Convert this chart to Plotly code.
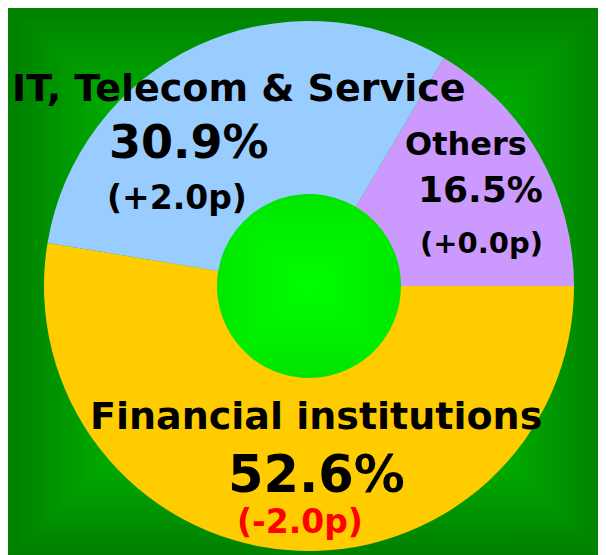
import base64
import plotly.graph_objects as go

# ---- data ----
categories = ["Financial institutions", "IT, Telecom & Service", "Others"]
shares = [52.6, 30.9, 16.5]
changes = [-2.0, 2.0, 0.0]
slice_colors = ["#FFCC00", "#99CCFF", "#CC99FF"]

# figure is placed by the page at (8, 8)
W, H = 598, 547
OFF = 8  # page margin; style positions below are given in window pixels

# ---- background: rectangular "from centre" gradient (SVG data URI) ----
x0, y0, x1, y1 = 0, 0, W, H
cx, cy = 301, 278
stops = '<stop offset="0" stop-color="#008000"/><stop offset="0.32" stop-color="#00A800"/>' \
        '<stop offset="0.69" stop-color="#00E600"/><stop offset="1" stop-color="#00FF00"/>'
svg = f'''<svg xmlns="http://www.w3.org/2000/svg" width="{W}" height="{H}" viewBox="0 0 {W} {H}">
<defs>
<linearGradient id="gt" gradientUnits="userSpaceOnUse" x1="0" y1="{y0}" x2="0" y2="{cy}">{stops}</linearGradient>
<linearGradient id="gb" gradientUnits="userSpaceOnUse" x1="0" y1="{y1}" x2="0" y2="{cy}">{stops}</linearGradient>
<linearGradient id="gl" gradientUnits="userSpaceOnUse" x1="{x0}" y1="0" x2="{cx}" y2="0">{stops}</linearGradient>
<linearGradient id="gr" gradientUnits="userSpaceOnUse" x1="{x1}" y1="0" x2="{cx}" y2="0">{stops}</linearGradient>
</defs>
<rect x="{x0}" y="{y0}" width="{x1-x0}" height="{y1-y0}" fill="#00A000"/>
<polygon points="{x0},{y0} {x1},{y0} {cx},{cy}" fill="url(#gt)" stroke="url(#gt)" stroke-width="0.6"/>
<polygon points="{x0},{y1} {x1},{y1} {cx},{cy}" fill="url(#gb)" stroke="url(#gb)" stroke-width="0.6"/>
<polygon points="{x0},{y0} {x0},{y1} {cx},{cy}" fill="url(#gl)" stroke="url(#gl)" stroke-width="0.6"/>
<polygon points="{x1},{y0} {x1},{y1} {cx},{cy}" fill="url(#gr)" stroke="url(#gr)" stroke-width="0.6"/>
</svg>'''
bg_uri = "data:image/svg+xml;base64," + base64.b64encode(svg.encode()).decode()

# ---- pie geometry (figure pixels) ----
pcx, pcy, pr = 301, 278, 265
hole_r = 92


def clamp(v):
    return min(1.0, max(0.0, v))


fig = go.Figure(go.Pie(
    labels=categories,
    values=shares,
    sort=False,
    direction="clockwise",
    rotation=90,
    hole=hole_r / pr,
    marker=dict(colors=slice_colors, line=dict(width=0)),
    textinfo="none",
    hoverinfo="label+percent",
    showlegend=False,
    domain=dict(x=[clamp((pcx - pr) / W), clamp((pcx + pr) / W)],
                y=[clamp(1 - (pcy + pr) / H), clamp(1 - (pcy - pr) / H)]),
))

# ---- labels ----
label_lines = []
for cat, s, c in zip(categories, shares, changes):
    label_lines.append((cat, f"{s:.1f}%", f"({c:+.1f}p)", c < 0))

# label layout in window pixels: (name pos, size), (pct pos, size), (chg pos, size)
label_style = {
    "Financial institutions": [((316, 416), 38), ((316, 474), 51), ((300, 521), 33)],
    "IT, Telecom & Service": [((239, 88), 38), ((189, 142), 46), ((177, 197), 33)],
    "Others": [((466, 144), 32), ((480, 189), 36), ((481, 243), 29)],
}

annotations = []
for name, pct, chg, neg in label_lines:
    texts = [name, pct, chg]
    for i, ((px, py), size) in enumerate(label_style[name]):
        color = "#FF0000" if (i == 2 and neg) else "#000000"
        annotations.append(dict(
            x=(px - OFF) / W, y=1 - (py - OFF) / H, xref="paper", yref="paper",
            xanchor="center", yanchor="middle",
            text=texts[i], showarrow=False,
            font=dict(family="DejaVu Sans", size=size, color=color, weight="bold"),
        ))

fig.update_layout(
    width=W, height=H,
    margin=dict(l=0, r=0, t=0, b=0),
    paper_bgcolor="#008000",
    plot_bgcolor="rgba(0,0,0,0)",
    images=[dict(source=bg_uri, xref="paper", yref="paper", x=0, y=1,
                 sizex=1, sizey=1, xanchor="left", yanchor="top",
                 sizing="stretch", layer="below")],
    annotations=annotations,
)

fig.write_html("out.html")
